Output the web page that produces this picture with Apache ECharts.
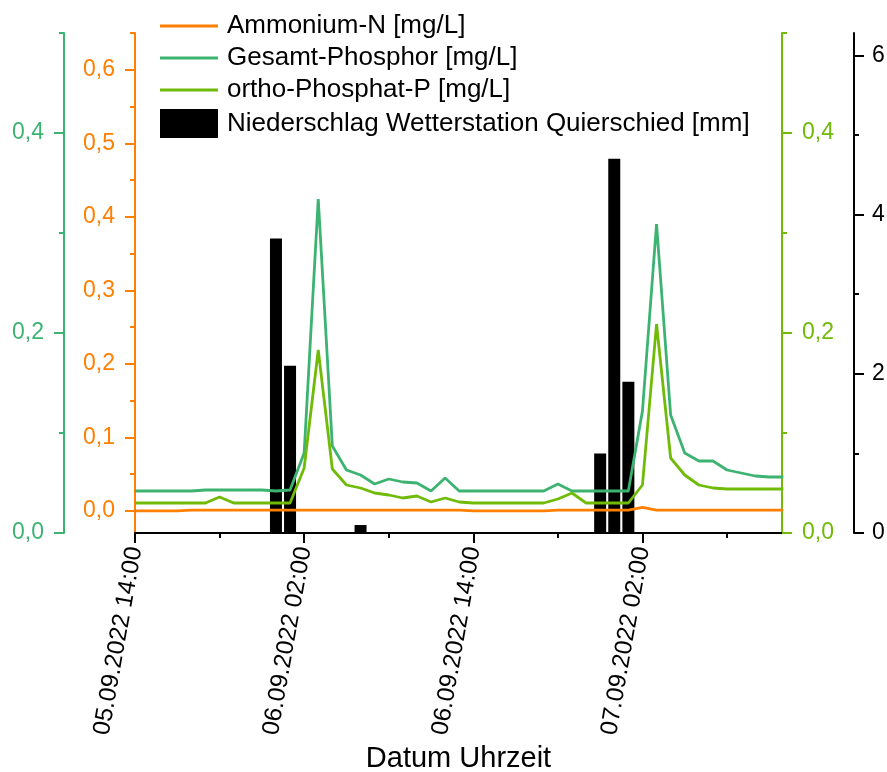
<!DOCTYPE html>
<html>
<head>
<meta charset="utf-8">
<script src="https://cdn.jsdelivr.net/npm/echarts@6/dist/echarts.min.js"></script>
<style>
  html, body { margin: 0; padding: 0; background: #fff; }
  #chart { width: 887px; height: 772px; }
</style>
</head>
<body>
<div id="chart"></div>
<script>
// hourly samples, first one at 05.09.2022 14:00
const startTime = new Date(2022, 8, 5, 14, 0).getTime();
const HOUR = 3600 * 1000;

const ammonium = [
  0.000, 0.000, 0.000, 0.000, 0.001, 0.001, 0.001, 0.001, 0.001, 0.001,
  0.001, 0.001, 0.001, 0.001, 0.001, 0.001, 0.001, 0.001, 0.001, 0.001,
  0.001, 0.001, 0.001, 0.001, 0.000, 0.000, 0.000, 0.000, 0.000, 0.000,
  0.001, 0.001, 0.001, 0.001, 0.001, 0.001, 0.005, 0.001, 0.001, 0.001,
  0.001, 0.001, 0.001, 0.001, 0.001, 0.001, 0.001
];
const gesamtP = [
  0.042, 0.042, 0.042, 0.042, 0.042, 0.043, 0.043, 0.043, 0.043, 0.043,
  0.042, 0.043, 0.080, 0.334, 0.087, 0.063, 0.058, 0.049, 0.054, 0.051,
  0.050, 0.042, 0.055, 0.042, 0.042, 0.042, 0.042, 0.042, 0.042, 0.042,
  0.049, 0.042, 0.042, 0.042, 0.042, 0.042, 0.122, 0.309, 0.118, 0.080,
  0.072, 0.072, 0.063, 0.060, 0.057, 0.056, 0.056
];
const orthoP = [
  0.030, 0.030, 0.030, 0.030, 0.030, 0.030, 0.036, 0.030, 0.030, 0.030,
  0.030, 0.030, 0.065, 0.183, 0.064, 0.048, 0.045, 0.040, 0.038, 0.035,
  0.037, 0.031, 0.035, 0.031, 0.030, 0.030, 0.030, 0.030, 0.030, 0.030,
  0.034, 0.040, 0.030, 0.030, 0.030, 0.030, 0.048, 0.209, 0.075, 0.058,
  0.048, 0.045, 0.044, 0.044, 0.044, 0.044, 0.044
];
const rain = [
  0, 0, 0, 0, 0, 0, 0, 0, 0, 0,
  3.7, 2.1, 0, 0, 0, 0, 0.1, 0, 0, 0,
  0, 0, 0, 0, 0, 0, 0, 0, 0, 0,
  0, 0, 0, 1.0, 4.7, 1.9, 0, 0, 0, 0,
  0, 0, 0, 0, 0, 0, 0
];

const xMajorHours = [0, 12, 24, 36];
const xMinorHours = [6, 18, 30, 42];
const phosTicks = [0, 0.2, 0.4];
const phosMinor = [0.1, 0.3, 0.5];
const nh4Ticks = [0, 0.1, 0.2, 0.3, 0.4, 0.5, 0.6];
const nh4Minor = [0.05, 0.15, 0.25, 0.35, 0.45, 0.55, 0.65];
const rainTicks = [0, 2, 4, 6];
const rainMinor = [1, 3, 5];

const FONT = 'Arial, "Liberation Sans", sans-serif';
const C_NH4 = '#FF7F00';
const C_TP = '#3CB371';
const C_PO4 = '#70BA08';
const LINE_ICON = 'path://M0,0 H58 V3 H0 Z';

const toTime = h => startTime + h * HOUR;
const pairs = arr => arr.map((v, i) => [toTime(i), v]);
const comma = v => v.toFixed(1).replace('.', ',');
const pad = n => String(n).padStart(2, '0');
function fmtDate(ms) {
  const d = new Date(ms);
  return pad(d.getDate()) + '.' + pad(d.getMonth() + 1) + '.' + d.getFullYear() +
    ' ' + pad(d.getHours()) + ':' + pad(d.getMinutes());
}

// main axis + a second one at the same place that only carries the short ticks
function yAxisPair(position, offset, color, min, max, labels, minors, fmt, margin) {
  const common = { type: 'value', position, offset, min, max, splitLine: { show: false } };
  return [
    Object.assign({}, common, {
      axisLine: { show: true, lineStyle: { color, width: 2 } },
      axisTick: { show: true, length: 10, customValues: labels, lineStyle: { color, width: 2 } },
      axisLabel: { customValues: labels, formatter: fmt, color, fontSize: 23, margin, fontFamily: FONT }
    }),
    Object.assign({}, common, {
      axisLine: { show: false },
      axisTick: { show: true, length: 5, customValues: minors, lineStyle: { color, width: 2 } },
      axisLabel: { show: false }
    })
  ];
}

const yAxes = [].concat(
  yAxisPair('left', 71, C_TP, 0, 0.5, phosTicks, phosMinor, comma, 20),
  yAxisPair('left', 0, C_NH4, -0.03, 0.65, nh4Ticks, nh4Minor, comma, 20),
  yAxisPair('right', 0, C_PO4, 0, 0.5, phosTicks, phosMinor, comma, 20),
  yAxisPair('right', 72, '#000', 0, 6.28, rainTicks, rainMinor, v => String(v), 18)
);

const xMin = toTime(0);
const xMax = toTime(45.9);

const chart = echarts.init(document.getElementById('chart'));
chart.setOption({
  backgroundColor: '#fff',
  animation: false,
  textStyle: { fontFamily: FONT },
  grid: { left: 135, right: 105, top: 33, bottom: 239, containLabel: false, outerBoundsMode: 'none' },
  legend: {
    orient: 'vertical',
    left: 155,
    top: 8,
    itemWidth: 58,
    itemHeight: 29,
    itemGap: 6,
    symbolKeepAspect: true,
    textStyle: { fontSize: 26, color: '#000', fontFamily: FONT, padding: [0, 0, 0, 4] },
    data: [
      { name: 'Ammonium-N [mg/L]', icon: LINE_ICON },
      { name: 'Gesamt-Phosphor [mg/L]', icon: LINE_ICON },
      { name: 'ortho-Phosphat-P [mg/L]', icon: LINE_ICON },
      { name: 'Niederschlag Wetterstation Quierschied [mm]', icon: 'rect' }
    ]
  },
  xAxis: [
    {
      type: 'value',
      min: xMin,
      max: xMax,
      name: 'Datum Uhrzeit',
      nameLocation: 'middle',
      nameGap: 211,
      nameTextStyle: { fontSize: 29, color: '#000', fontFamily: FONT },
      splitLine: { show: false },
      axisLine: { show: true, lineStyle: { color: '#000', width: 2 } },
      axisTick: { show: true, length: 10, customValues: xMajorHours.map(toTime), lineStyle: { color: '#000', width: 2 } },
      axisLabel: {
        customValues: xMajorHours.map(toTime),
        formatter: fmtDate,
        rotate: 80,
        margin: 14,
        fontSize: 24.5,
        color: '#000',
        fontFamily: FONT
      }
    },
    {
      type: 'value',
      position: 'bottom',
      min: xMin,
      max: xMax,
      splitLine: { show: false },
      axisLine: { show: false },
      axisTick: { show: true, length: 5, customValues: xMinorHours.map(toTime), lineStyle: { color: '#000', width: 2 } },
      axisLabel: { show: false }
    }
  ],
  yAxis: yAxes,
  series: [
    {
      name: 'Ammonium-N [mg/L]',
      type: 'line',
      yAxisIndex: 2,
      symbol: 'none',
      color: C_NH4,
      lineStyle: { width: 2.8 },
      data: pairs(ammonium)
    },
    {
      name: 'Gesamt-Phosphor [mg/L]',
      type: 'line',
      yAxisIndex: 0,
      symbol: 'none',
      color: C_TP,
      lineStyle: { width: 2.8 },
      data: pairs(gesamtP)
    },
    {
      name: 'ortho-Phosphat-P [mg/L]',
      type: 'line',
      yAxisIndex: 4,
      symbol: 'none',
      color: C_PO4,
      lineStyle: { width: 2.8 },
      data: pairs(orthoP)
    },
    {
      name: 'Niederschlag Wetterstation Quierschied [mm]',
      type: 'bar',
      yAxisIndex: 6,
      barWidth: 12,
      color: '#000',
      data: pairs(rain)
    }
  ]
});
</script>
</body>
</html>
